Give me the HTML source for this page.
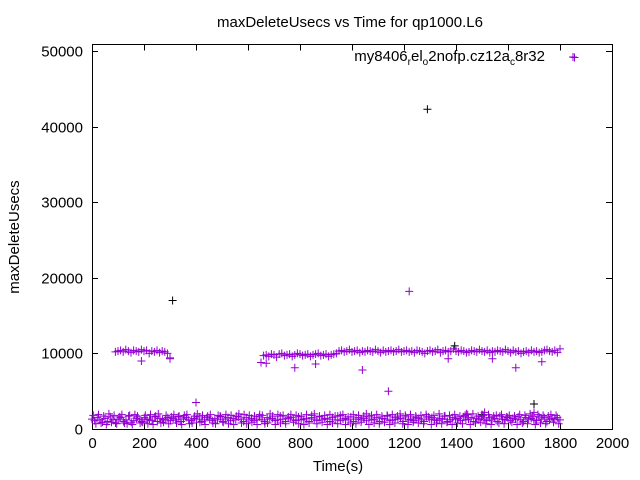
<!DOCTYPE html>
<html><head><meta charset="utf-8"><style>
html,body{margin:0;padding:0;background:#fff}
svg{display:block;font-family:"Liberation Sans",sans-serif}
</style></head><body>
<svg id="chart" width="640" height="480">
<text x="350" y="27" font-size="15" text-anchor="middle">maxDeleteUsecs vs Time for qp1000.L6</text>
<text x="338" y="471" font-size="15" text-anchor="middle">Time(s)</text>
<text transform="translate(19,237) rotate(-90)" font-size="15" text-anchor="middle">maxDeleteUsecs</text>
<g id="axes"></g>
<g id="marks"></g>
<g>
<text x="545" y="61" font-size="15" text-anchor="end">my8406<tspan font-size="10" dy="4">r</tspan><tspan dy="-4">el</tspan><tspan font-size="10" dy="4">o</tspan><tspan dy="-4">2nofp.cz12a</tspan><tspan font-size="10" dy="4">c</tspan><tspan dy="-4">8r32</tspan></text>
<path d="M570.5 57.5h8M574.5 53.5v8" stroke="#9400d3"/>
</g>
</svg>
<script>
const xTicks=[0,200,400,600,800,1000,1200,1400,1600,1800,2000];
const yTicks=[0,10000,20000,30000,40000,50000];
const baseStart=0, baseEnd=1800;
// base band samples, spread evenly from baseStart to baseEnd
const baseV=[1300,1100,1500,1200,900,1400,1000,1600,1200,800,1300,1500,1000,1200,1700,900,1100,1400,1300,1000,
1500,1200,1300,1100,1600,1000,1400,1200,1300,1500,1100,1400,1200,1600,1000,1300,1500,1200,1100,1400,
1300,1600,1000,1200,1500,1300,1100,1400,1200,1700,1000,1300,1500,1100,1400,1200,1600,1300,1000,1500,
1200,1400,1100,1300,1600,1200,1000,1500,1300,1400,1100,1200,1700,1300,1000,1400,1500,1200,1100,1600,
1300,1200,1400,1000,1500,1300,1100,1600,1200,1400,1300,1000,1500,1200,1700,1100,1300,1400,1200,1600,
1000,1300,1500,1200,1400,1100,1600,1300,1200,1500,1000,1400,1300,1700,1100,1200,1500,1300,1400,1000,
1600,1200,1300,1100,1500,1400,1200,1000,1600,1300,1500,1200,1100,1400,1300,1700,1000,1200,1500,1300,
1400,1100,1600,1200,1300,1500,1000,1400,1200,1600,1300,1100,1500,1200,1400,1000,1700,1300,1200,1500,
1100,1400,1300,1600,1200,1000,1500,1300,1400,1200,1100,1600,1300,1500,1000,1200,1400,1300,1500,1200];
const baseV2=[1800,700,1900,800,1700,600,2000,900,1800,700,1600,1900,800,700,1800,600,1900,1700,800,900,
1800,700,1900,600,1700,2000,800,900,1800,700,1600,1900,800,1700,600,1800,1900,700,800,1700,
2000,900,1800,600,1700,1900,800,700,1800,1600,900,1900,700,1800,600,1700,2000,800,1900,700,
1800,900,1700,600,1900,1800,700,800,2000,1700,600,1900,800,1800,700,1600,1900,900,1800,700,
1700,600,1900,800,1800,2000,700,1700,900,1800,600,1900,800,1700,700,1800,1900,600,1600,800,
1900,700,1800,900,1700,2000,600,1800,800,1900,700,1700,900,1800,600,1900,800,1700,2000,700,
1800,600,1900,900,1700,800,1800,700,1900,1600,600,1800,800,2000,700,1700,900,1800,600,1900,
800,1700,700,1800,1900,600,2000,800,1700,900,1800,700,1900,600,1700,1800,800,1900,700,1600,
1800,900,1700,600,1900,800,1800,700,2000,1700,600,1900,800,1800,700,1700,1900,900,1800,700];
const highT=[90,100,110,120,130,140,150,160,170,180,190,200,210,220,230,240,250,260,270,280,290,300,300,
650,660,670,680,690,700,710,720,730,740,750,760,770,780,790,800,810,820,830,840,850,860,870,880,890,900,910,920,930,940,
950,960,970,980,990,1000,1010,1020,1030,1040,1050,1060,1070,1080,1090,1100,1110,1120,1130,1140,1150,1160,1170,1180,1190,1200,
1210,1220,1230,1240,1250,1260,1270,1280,1290,1300,1310,1320,1330,1340,1350,1360,1370,1380,1390,1400,1410,1420,1430,1440,1450,
1460,1470,1480,1490,1500,1510,1520,1530,1540,1550,1560,1570,1580,1590,1600,1610,1620,1630,1640,1650,1660,1670,1680,1690,1700,
1710,1720,1730,1740,1750,1760,1770,1780,1790,1800];
const highV=[10200,10300,10400,10200,10500,10300,10100,10400,10300,10200,10500,10300,10400,10000,10300,10200,10400,10100,10300,10200,10000,9400,9300,
8800,9700,9800,9600,9900,9800,9500,9900,10000,9700,9800,9900,9600,9800,10000,9900,9700,9800,9900,9600,9800,9900,10000,9700,9800,9900,9600,9800,9900,10000,
10300,10400,10200,10300,10500,10200,10300,10400,10100,10300,10200,10400,10300,10200,10500,10300,10100,10400,10200,10300,10400,10200,10300,10500,10200,10300,
10400,10200,10300,10100,10400,10300,10200,10000,10300,10400,10200,10300,10500,10100,10300,10400,10200,10300,10600,10300,10200,10400,10300,10100,10200,
10400,10300,10200,10500,10300,10200,10400,10100,10300,10200,10400,10300,10200,10500,10300,10100,10400,10200,10300,10000,
10200,10300,10100,10400,10200,10300,10100,10200,10400,10500,10300,10200,10400,10100,10600];
const outT=[190,400,670,780,860,1040,1140,1220,1370,1440,1510,1540,1630,1700,1730,1850];
const outV=[9000,3500,8700,8100,8600,7800,5000,18200,9300,2000,2200,9300,8100,2200,8900,49200];
const blackT=[310,1290,1700,1500,1395];
const blackV=[17000,42300,3300,1900,11000];

const X0=92,X1=612,Y0=429,Y1=51;
const xs=v=>X0+(v/2000)*(X1-X0);
const ys=v=>Y0-(v/50000)*(Y0-Y1);
const NS="http://www.w3.org/2000/svg";
const axes=document.getElementById('axes'),marks=document.getElementById('marks');
function mk(tag,attrs,parent){const e=document.createElementNS(NS,tag);for(const k in attrs)e.setAttribute(k,attrs[k]);parent.appendChild(e);return e;}
const frame=mk('rect',{x:X0+0.5,y:44.5,width:X1-X0,height:Y0-44,fill:'none',stroke:'#000'},axes);


xTicks.forEach(t=>{const x=Math.round(xs(t))+0.5;
 const l=mk('path',{d:`M${x} ${Y0}v-6M${x} 44.5v6`,stroke:'#000'},axes);
 
 
 const tx=mk('text',{x:x,y:448,'font-size':15,'text-anchor':'middle'},axes);tx.textContent=t;
 
 });
yTicks.forEach(t=>{const y=Math.round(ys(t))+0.5;
 const l=mk('path',{d:`M${X0} ${y}h6M${X1} ${y}h-6`,stroke:'#000'},axes);
 
 
 const tx=mk('text',{x:83,y:y+5,'font-size':15,'text-anchor':'end'},axes);tx.textContent=t;
 
 });
function cross(t,v,c){const x=xs(t),y=ys(v);
 const p=mk('path',{d:`M${x-4} ${y}h8M${x} ${y-4}v8`,stroke:c,'stroke-width':1},marks);
 
 }
const P='#9400d3';
blackT.forEach((t,i)=>cross(t,blackV[i],'#000'));
baseV.forEach((v,i)=>cross(baseStart+i*(baseEnd-baseStart)/(baseV.length-1),v,P));
baseV2.forEach((v,i)=>cross(baseStart+(i+0.5)*(baseEnd-baseStart)/baseV2.length,v,P));
highT.forEach((t,i)=>{if(i<highV.length)cross(t,highV[i],P);});
outT.forEach((t,i)=>cross(t,outV[i],P));
</script>
</body></html>
